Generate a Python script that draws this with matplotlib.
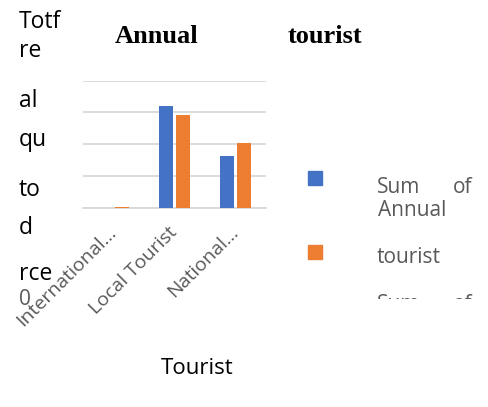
import matplotlib.pyplot as plt
import numpy as np
from matplotlib.transforms import Bbox, TransformedBbox

# Annual tourist pivot chart: two summed series per tourist type
categories = ["International…", "Local Tourist", "National…"]
sum_annual = [0.0, 3.2, 1.62]
sum_second = [0.03, 2.92, 2.04]
series_colors = ["#4472C4", "#ED7D31"]

W, H = 489, 407


def px(x, y):
    # pixel position (from top-left) -> figure fraction
    return x / W, 1 - y / H


def main():
    fig = plt.figure(figsize=(W / 100, H / 100), dpi=100)
    ax = fig.add_axes([83 / W, 1 - 207.5 / H, 183 / W, 127 / H])

    x = np.arange(len(categories))
    ax.bar(x - 0.139, sum_annual, 0.23, color=series_colors[0], zorder=3)
    ax.bar(x + 0.139, sum_second, 0.23, color=series_colors[1], zorder=3)

    ax.set_xlim(-0.5, len(categories) - 0.5)
    ax.set_ylim(0, 4)
    ax.set_yticks(np.arange(0, 5))
    ax.yaxis.grid(True, color="#d9d9d9", linewidth=1.3, zorder=0)
    ax.tick_params(axis="y", left=False, labelleft=False)
    ax.tick_params(axis="x", length=0, pad=16)
    for side in ["top", "right", "left"]:
        ax.spines[side].set_visible(False)
    ax.spines["bottom"].set_color("#d9d9d9")
    ax.spines["bottom"].set_linewidth(1.3)

    ax.set_xticks(x)
    ax.set_xticklabels(categories, rotation=45, ha="right", va="center",
                       rotation_mode="anchor", color="#595959",
                       fontsize=14, family="Open Sans")

    # title, split in two words
    tfont = dict(family="Liberation Serif", fontweight="bold", fontsize=19,
                 va="baseline")
    fig.text(*px(115, 43), "Annual", ha="left", **tfont)
    fig.text(*px(288, 43), "tourist", ha="left", **tfont)

    # wrapped y-axis title fragments
    yfrag = [("Totf", 28), ("re", 57), ("al", 107), ("qu", 146),
             ("to", 196), ("d", 234), ("rce", 280)]
    for s, yb in yfrag:
        fig.text(*px(19, yb), s, ha="left", va="baseline", fontsize=16.5,
                 family="Open Sans", color="black")
    fig.text(*px(19, 305), "0", ha="left", va="baseline", fontsize=15,
             family="Open Sans", color="#595959")

    fig.text(*px(197, 374), "Tourist", ha="center", va="baseline",
             fontsize=16, family="Open Sans", color="black")

    # legend
    for col, ytop in zip(series_colors, [171, 245]):
        fig.patches.append(plt.Rectangle(px(308, ytop + 14), 14 / W, 14 / H,
                                         transform=fig.transFigure,
                                         color=col, figure=fig))
    lfont = dict(fontsize=15, family="Open Sans", color="#595959",
                 va="baseline")
    fig.text(*px(377, 193), "Sum", ha="left", **lfont)
    fig.text(*px(472, 193), "of", ha="right", **lfont)
    fig.text(*px(378, 216), "Annual", ha="left", **lfont)
    fig.text(*px(377, 263), "tourist", ha="left", **lfont)
    clip = TransformedBbox(Bbox([[0.7, 1 - 299 / H], [1.0, 1 - 280 / H]]),
                           fig.transFigure)
    for s, xx, ha in [("Sum", 377, "left"), ("of", 472, "right")]:
        t = fig.text(*px(xx, 310), s, ha=ha, **lfont)
        t.set_clip_box(clip)
        t.set_clip_on(True)

    fig.add_artist(plt.Line2D([0, 1], [0.5 / H, 0.5 / H],
                              transform=fig.transFigure,
                              color="#ececec", linewidth=1))

    fig.savefig("out.png", dpi=100)


if __name__ == "__main__":
    main()
